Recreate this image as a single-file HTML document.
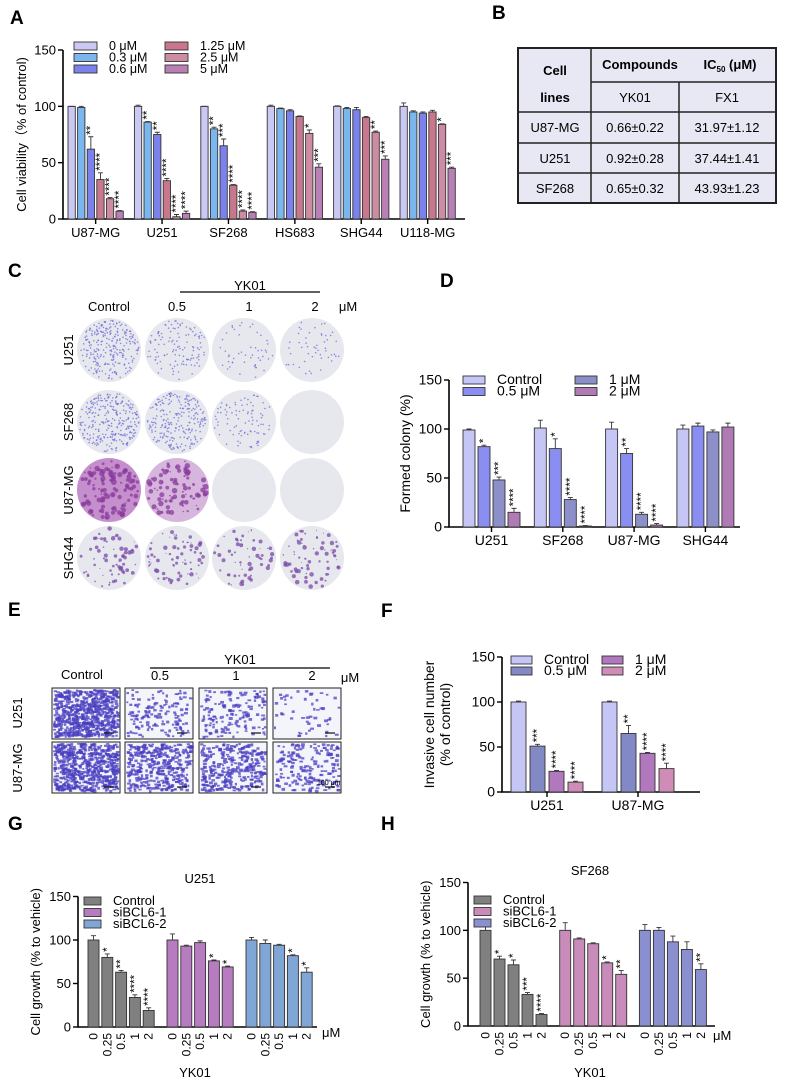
<!DOCTYPE html>
<html><head><meta charset="utf-8"><style>
body{margin:0;background:#fff;width:787px;height:1089px;overflow:hidden}
svg{display:block;font-family:"Liberation Sans",Arial,sans-serif}
</style></head><body>
<svg id="fig" width="787" height="1089" viewBox="0 0 787 1089" xmlns="http://www.w3.org/2000/svg">
<g font-weight="bold" font-size="19">
<text x="10" y="24">A</text><text x="492" y="19">B</text><text x="8" y="277">C</text>
<text x="440" y="287">D</text><text x="8" y="616">E</text><text x="381" y="617">F</text>
<text x="8" y="830">G</text><text x="381" y="830">H</text></g>
<g font-size="13" text-anchor="middle">
<rect x="518" y="48" width="258" height="155" fill="#e8e8f4" stroke="#222" stroke-width="2"/>
<path d="M591 48V203M679 82V203M591 82H776M518 112H776M518 143H776M518 173H776" stroke="#222" stroke-width="1.5" fill="none"/>
<text x="555" y="75" font-weight="bold">Cell</text><text x="555" y="102" font-weight="bold">lines</text>
<text x="640" y="69" font-weight="bold">Compounds</text><text x="730" y="69" font-weight="bold">IC<tspan font-size="8" dy="3">50</tspan><tspan dy="-3"> (μM)</tspan></text>
<text x="635" y="102">YK01</text><text x="727" y="102">FX1</text>
<text x="555" y="132">U87-MG</text><text x="635" y="132">0.66±0.22</text><text x="727" y="132">31.97±1.12</text>
<text x="555" y="163">U251</text><text x="635" y="163">0.92±0.28</text><text x="727" y="163">37.44±1.41</text>
<text x="555" y="193">SF268</text><text x="635" y="193">0.65±0.32</text><text x="727" y="193">43.93±1.23</text>
</g>
<g id="photosC" font-size="13">
<text x="109" y="311" text-anchor="middle">Control</text><text x="250" y="290" text-anchor="middle">YK01</text>
<line x1="180" y1="292" x2="320" y2="292" stroke="#000" stroke-width="1.2"/>
<text x="177" y="311" text-anchor="middle">0.5</text><text x="249" y="311" text-anchor="middle">1</text><text x="315" y="311" text-anchor="middle">2</text><text x="348" y="311" text-anchor="middle">μM</text>
<text transform="translate(73,350) rotate(-90)" text-anchor="middle">U251</text>
<text transform="translate(73,422) rotate(-90)" text-anchor="middle">SF268</text>
<text transform="translate(73,490) rotate(-90)" text-anchor="middle">U87-MG</text>
<text transform="translate(73,558) rotate(-90)" text-anchor="middle">SHG44</text>
</g>
<g id="photosE" font-size="13">
<text x="82" y="679" text-anchor="middle">Control</text><text x="240" y="664" text-anchor="middle">YK01</text>
<line x1="150" y1="668" x2="330" y2="668" stroke="#000" stroke-width="1.2"/>
<text x="160" y="680" text-anchor="middle">0.5</text><text x="236" y="680" text-anchor="middle">1</text><text x="312" y="680" text-anchor="middle">2</text><text x="350" y="682" text-anchor="middle">μM</text>
<text transform="translate(22,713) rotate(-90)" text-anchor="middle">U251</text>
<text transform="translate(22,768) rotate(-90)" text-anchor="middle">U87-MG</text>
</g>
<g id="chartA"></g>
<g id="chartD"></g>
<g id="chartF"></g>
<g id="chartG"></g>
<g id="chartH"></g>
</svg>
<script>
// ---- Panel A data ----
const aCategories = ["U87-MG","U251","SF268","HS683","SHG44","U118-MG"];
const aSeries = ["0 μM","0.3 μM","0.6 μM","1.25 μM","2.5 μM","5  μM"];
const aValues = [[100,99,62,35,18,7],[100,86,75,34,2,5],[100,80,65,30,7,6],[100,98,96,91,76,46],[100,98,97,90,77,53],[100,95,94,95,84,45]];
const aErrors = [[0,1,11,6,1,0.5],[1,0.5,2,2,2,2],[0,1.5,6,0.5,1,0.5],[1,0.5,1,0.5,3,3],[0.5,1,2,1,1,3],[3,1,1,1.5,0.5,1]];
const aStars = [["","","**","****","****","****"],["","**","**","****","****","****"],["","**","***","****","****","****"],["","","","","*","***"],["","","","","**","***"],["","","","","*","***"]];
// ---- Panel D data ----
const dCategories = ["U251","SF268","U87-MG","SHG44"];
const dSeries = ["Control","0.5 μM","1 μM","2 μM"];
const dValues = [[99,82,48,15],[101,80,28,1],[100,75,13,2],[100,103,97,102]];
const dErrors = [[1,1.5,3,4],[8,10,2,0.5],[7,5,2,1.5],[4,3,2,4]];
const dStars = [["","*","***","****"],["","*","****","****"],["","**","****","****"],["","","",""]];
// ---- Panel F data ----
const fCategories = ["U251","U87-MG"];
const fSeries = ["Control","0.5 μM","1 μM","2 μM"];
const fValues = [[100,51,23,11],[100,65,43,26]];
const fErrors = [[1,2,1,1],[1,9,1,6]];
const fStars = [["","***","****","****"],["","**","****","****"]];
// ---- Panel G data ----
const gGroups = ["Control","siBCL6-1","siBCL6-2"];
const gDoses = ["0","0.25","0.5","1","2"];
const gValues = [[100,80,63,34,19],[100,93,97,76,69],[100,96,94,82,63]];
const gErrors = [[5,4,2,3,3],[7,1,2,1,1],[3,4,1,1,5]];
const gStars = [["","*","**","****","****"],["","","","*","*"],["","","","*","*"]];
// ---- Panel H data ----
const hGroups = ["Control","siBCL6-1","siBCL6-2"];
const hDoses = ["0","0.25","0.5","1","2"];
const hValues = [[100,70,64,33,12],[100,91,86,66,54],[100,100,88,80,59]];
const hErrors = [[4,3,5,2,1],[8,1,1,1,4],[6,3,6,8,6]];
const hStars = [["","*","*","***","****"],["","","","*","**"],["","","","","**"]];
const yTicks = [0,50,100,150];

const NS="http://www.w3.org/2000/svg";
function mk(parent,tag,attrs,txt){const e=document.createElementNS(NS,tag);for(const k in attrs)e.setAttribute(k,attrs[k]);if(txt!==undefined)e.textContent=txt;parent.appendChild(e);return e;}

function drawChart(g,cfg,values,errors,stars,colorFn){
  const yScale=v=>cfg.yZero-(v/150)*(cfg.yZero-cfg.yTop);
  const ax=mk(g,'path',{d:`M${cfg.axisX} ${cfg.yTop}V${cfg.yZero}H${cfg.axisEnd}`,stroke:'#000','stroke-width':1.6,fill:'none'});
  
  
  yTicks.forEach(t=>{
    const y=yScale(t);
    mk(g,'line',{x1:cfg.axisX-5,x2:cfg.axisX,y1:y,y2:y,stroke:'#000','stroke-width':1.4});
    const tl=mk(g,'text',{x:cfg.axisX-7,y:y+4.5,'text-anchor':'end','font-size':cfg.fs},t);
    
    
  });
  values.forEach((grp,gi)=>{
    const gx=cfg.start0+gi*cfg.groupPitch;
    grp.forEach((v,bi)=>{
      const x=gx+bi*cfg.barPitch, y=yScale(v), e=errors[gi][bi];
      const r=mk(g,'rect',{x:x,y:y,width:cfg.barW,height:Math.max(0.5,cfg.yZero-y),fill:colorFn(gi,bi),stroke:'#333','stroke-width':0.9});
      
      
      const cx=x+cfg.barW/2, ye=yScale(v+e);
      mk(g,'path',{d:`M${cx} ${y}V${ye}M${cx-2.5} ${ye}H${cx+2.5}`,stroke:'#333','stroke-width':0.9,fill:'none'});
      const s=stars[gi][bi];
      if(s){const st=mk(g,'text',{transform:`translate(${cx+3.5},${ye-2}) rotate(-90)`,'font-size':11.5},s);
        
        }
      if(cfg.doseLabels){
        const dl=mk(g,'text',{transform:`translate(${cx+4},${cfg.yZero+6}) rotate(-90)`,'text-anchor':'end','font-size':12},cfg.doseLabels[bi]);
        
        
      }
    });
    if(cfg.categories){
      const cxg=gx+(grp.length*cfg.barPitch-(cfg.barPitch-cfg.barW))/2;
      mk(g,'line',{x1:cxg,x2:cxg,y1:cfg.yZero,y2:cfg.yZero+5,stroke:'#000','stroke-width':1.4});
      const cl=mk(g,'text',{x:cxg,y:cfg.yZero+18,'text-anchor':'middle','font-size':cfg.fs},cfg.categories[gi]);
      
      
    }
  });
  const yl=mk(g,'text',{transform:`translate(${cfg.ylx},${(cfg.yTop+cfg.yZero)/2}) rotate(-90)`,'text-anchor':'middle','font-size':cfg.fs},cfg.ylabel);
  
  
  if(cfg.ylabel2){const y2=mk(g,'text',{transform:`translate(${cfg.ylx+16},${(cfg.yTop+cfg.yZero)/2}) rotate(-90)`,'text-anchor':'middle','font-size':cfg.fs},cfg.ylabel2);
    
    }
}
function legend(g,items,colors,pos){
  items.forEach((t,i)=>{
    const p=pos(i);
    const r=mk(g,'rect',{x:p[0],y:p[1]-8,width:p[2],height:8,fill:colors[i],stroke:'#333','stroke-width':0.9});
    
    
    const tx=mk(g,'text',{x:p[0]+p[2]+p[3],y:p[1],'font-size':p[4]},t);
    
    
  });
}
const aCol=["#c9c9f3","#7cb6ee","#7c82ec","#c7788c","#cd8ca3","#b880b5"];
drawChart(document.getElementById('chartA'),{axisX:63,yZero:219,yTop:50,axisEnd:465,start0:68,groupPitch:66.4,barPitch:9.6,barW:7.3,fs:13,categories:aCategories,ylx:26,ylabel:"Cell viability（% of control)"},aValues,aErrors,aStars,(g,b)=>aCol[b]);
legend(document.getElementById('chartA'),aSeries,aCol,i=>[i<3?74:165,i<3?50+i*11.5:50+(i-3)*11.5,23,12,12.5]);
const dCol=["#c6c6f6","#8a8ef0","#8d90c8","#b07ab5"];
drawChart(document.getElementById('chartD'),{axisX:449,yZero:527,yTop:380,axisEnd:740,start0:463,groupPitch:71.3,barPitch:15,barW:12,fs:14,categories:dCategories,ylx:410,ylabel:"Formed colony (%)"},dValues,dErrors,dStars,(g,b)=>dCol[b]);
legend(document.getElementById('chartD'),dSeries,dCol,i=>[i<2?463:575,i<2?384+i*11.5:384+(i-2)*11.5,22,12,14]);
const fCol=["#c5c5f6","#8389c5","#b278bd","#cf8cb7"];
drawChart(document.getElementById('chartF'),{axisX:502,yZero:792,yTop:657,axisEnd:700,start0:511,groupPitch:91,barPitch:19,barW:15,fs:14,categories:fCategories,ylx:434,ylabel:"Invasive cell number",ylabel2:"(% of control)"},fValues,fErrors,fStars,(g,b)=>fCol[b]);
legend(document.getElementById('chartF'),fSeries,fCol,(i)=>[i<2?511:602,i<2?664+i*11:664+(i-2)*11,21,12,14]);
const gCol=["#808080","#b67cbf","#80a6d6"];
const gg=document.getElementById('chartG');
drawChart(gg,{axisX:78,yZero:1027,yTop:896.5,axisEnd:317,start0:88,groupPitch:79,barPitch:13.8,barW:11,fs:13,doseLabels:gDoses,ylx:40,ylabel:"Cell growth (% to vehicle)"},gValues,gErrors,gStars,(g)=>gCol[g]);
legend(gg,gGroups,gCol,i=>[84,905+i*11.5,17,12,13]);
mk(gg,'text',{x:200,y:883,'text-anchor':'middle','font-size':13},"U251");
mk(gg,'text',{x:322,y:1037,'font-size':13},"μM");
mk(gg,'text',{x:195,y:1077,'text-anchor':'middle','font-size':13},"YK01");
const hCol=["#808080","#c98bb9","#8a8fd0"];
const hg=document.getElementById('chartH');
drawChart(hg,{axisX:468,yZero:1026,yTop:882.5,axisEnd:715,start0:480,groupPitch:79.7,barPitch:14,barW:11,fs:13,doseLabels:hDoses,ylx:430,ylabel:"Cell growth (% to vehicle)"},hValues,hErrors,hStars,(g)=>hCol[g]);
legend(hg,hGroups,hCol,i=>[474,904+i*11.5,17,12,13]);
mk(hg,'text',{x:590,y:875,'text-anchor':'middle','font-size':13},"SF268");
mk(hg,'text',{x:713,y:1040,'font-size':13},"μM");
mk(hg,'text',{x:590,y:1077,'text-anchor':'middle','font-size':13},"YK01");

let seed=7;function rnd(){seed=(seed*16807)%2147483647;return seed/2147483647;}
const C=document.getElementById('photosC');
const cx=[109,177,244,312], cy=[350,422,490,558];
const dens=[[260,120,50,50],[280,240,90,0],[0,0,0,0],[70,70,60,70]];
const dotCol=["#6e6ad8","#6e6ad8","#9a4aa8","#7b4aa8"];
cy.forEach((y,r)=>cx.forEach((x,c)=>{
  const u87=(r===2&&c<2);
  const pl=mk(C,'circle',{cx:x,cy:y,r:32,fill:u87?(c===0?'#c48fcc':'#d6b6dc'):'#e6e8ee'});
  
  
  const n=u87?(c===0?110:80):dens[r][c];
  for(let i=0;i<n;i++){const a=rnd()*6.283,d=Math.sqrt(rnd())*30;
    mk(C,'circle',{cx:x+Math.cos(a)*d,cy:y+Math.sin(a)*d,r:r===3?(rnd()*1.8+0.5):(u87?rnd()*2.2+0.7:0.8),fill:u87?'#8a3a9c':dotCol[r],opacity:0.75});}
}));
const E=document.getElementById('photosE');
const ex=[52,125,199,273], ey=[688,742], eDen=[[650,140,150,50],[600,380,320,190]];
ey.forEach((y,r)=>ex.forEach((x,c)=>{
  const b=mk(E,'rect',{x:x,y:y,width:68,height:51,fill:'#f4f4fb',stroke:'#222','stroke-width':1});
  
  
  for(let i=0;i<eDen[r][c];i++){mk(E,'rect',{x:x+1+rnd()*64,y:y+1+rnd()*47,width:2+rnd()*2,height:1.5+rnd()*1.5,fill:'#4a3fc0',opacity:0.75});}
  mk(E,'line',{x1:x+52,x2:x+62,y1:y+45,y2:y+45,stroke:'#111','stroke-width':1.2});
}));
mk(E,'text',{x:317,y:785,'font-size':7},"100 μm");
</script>
</body></html>
